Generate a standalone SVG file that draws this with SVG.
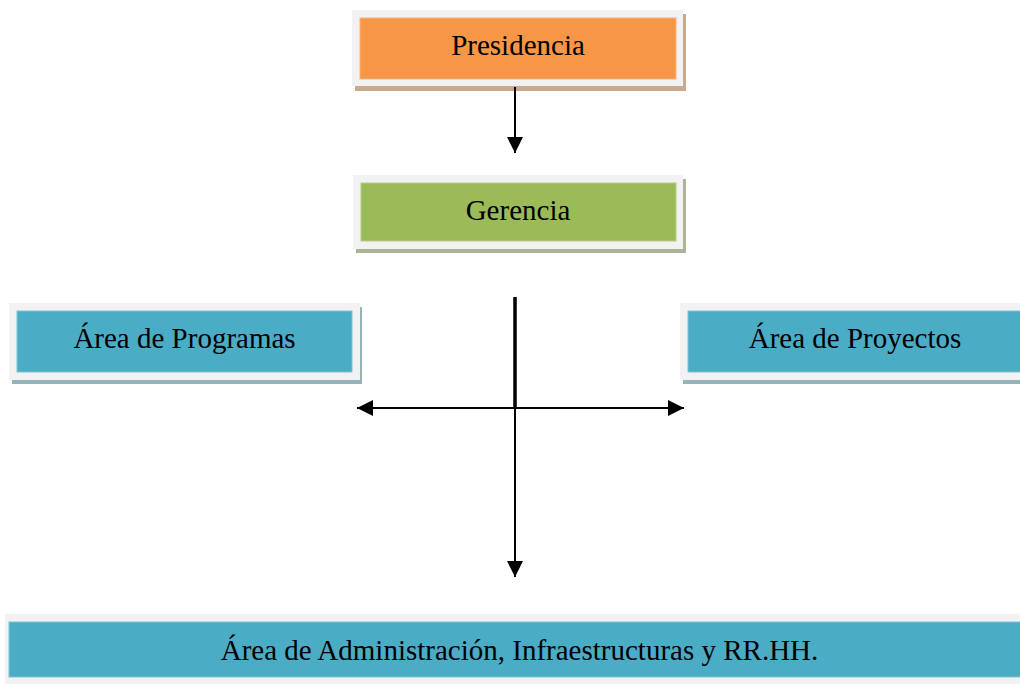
<svg xmlns="http://www.w3.org/2000/svg" width="1020" height="684" viewBox="0 0 1020 684">
<defs>
<style>
.frame{fill:#F2F2F2}
.lbl{font-family:"Liberation Serif","Times New Roman",serif;font-size:29px;fill:#000;text-anchor:middle}
.conn{stroke:#000;stroke-width:2;fill:none}
</style>
<marker id="ah" viewBox="0 0 16 16" refX="16" refY="8" markerWidth="16" markerHeight="16" markerUnits="userSpaceOnUse" orient="auto-start-reverse">
<path d="M0,0 L16,8 L0,16 Z" fill="#000"/>
</marker>
</defs>
<rect width="1020" height="684" fill="#fff"/>

<g id="presidencia">
<rect x="355" y="14" width="331" height="77" fill="#C9AA8E"/>
<rect class="frame" x="352" y="10" width="331" height="76"/>
<rect x="360" y="18" width="316" height="61" fill="#F79646" stroke="#F9B07A" stroke-width="1"/>
<text class="lbl" x="518" y="55">Presidencia</text>
</g>

<g id="gerencia">
<rect x="356" y="179" width="330" height="74" fill="#ABB496"/>
<rect class="frame" x="353" y="175" width="330" height="74"/>
<rect x="361" y="183" width="315" height="58" fill="#9BBB59" stroke="#B4CC85" stroke-width="1"/>
<text class="lbl" x="518" y="220">Gerencia</text>
</g>

<g id="programas">
<rect x="12" y="307" width="350" height="77" fill="#94B3BB"/>
<rect class="frame" x="9" y="303" width="351" height="77"/>
<rect x="17" y="311" width="335" height="61" fill="#4BACC6" stroke="#7CC3D6" stroke-width="1"/>
<text class="lbl" x="184.5" y="348">Área de Programas</text>
</g>

<g id="proyectos">
<rect x="683" y="307" width="345" height="77" fill="#94B3BB"/>
<rect class="frame" x="680" y="303" width="350" height="77"/>
<rect x="688" y="311" width="340" height="61" fill="#4BACC6" stroke="#7CC3D6" stroke-width="1"/>
<text class="lbl" x="855" y="348">Área de Proyectos</text>
</g>

<g id="administracion">
<rect class="frame" x="5" y="614" width="1025" height="70"/>
<rect x="9" y="622" width="1021" height="55" fill="#4BACC6" stroke="#7CC3D6" stroke-width="1"/>
<text class="lbl" x="519.5" y="660">Área de Administración, Infraestructuras y RR.HH.</text>
</g>

<g id="connectors">
<line class="conn" x1="515" y1="87" x2="515" y2="153" marker-end="url(#ah)"/>
<line x1="515" y1="297" x2="515" y2="408" stroke="#000" stroke-width="3.5"/>
<line class="conn" x1="515" y1="408" x2="515" y2="577" marker-end="url(#ah)"/>
<line class="conn" x1="357" y1="408" x2="684" y2="408" marker-start="url(#ah)" marker-end="url(#ah)"/>
</g>
</svg>
